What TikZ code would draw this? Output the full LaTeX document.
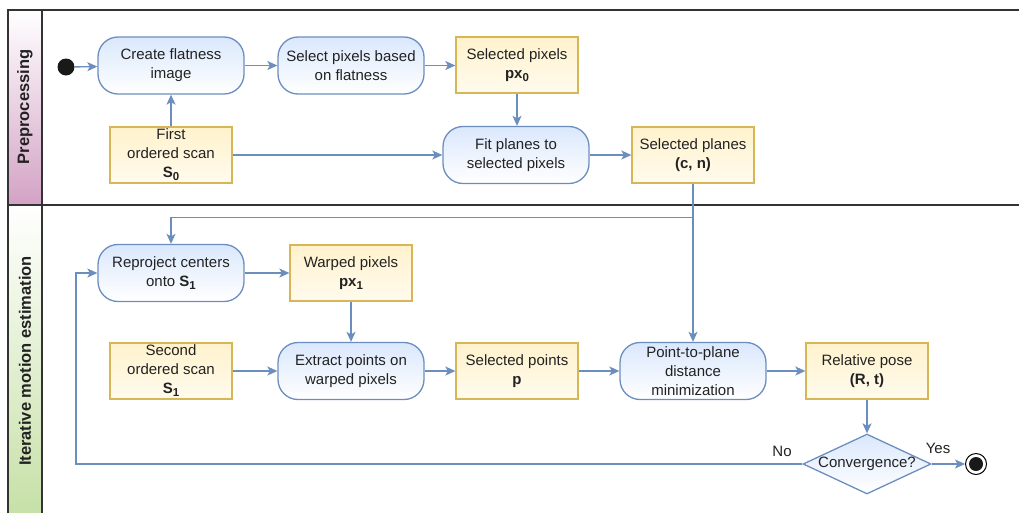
\documentclass[tikz,border=0pt]{standalone}
\usepackage{fontspec}
\setmainfont{Liberation Sans}
\usetikzlibrary{arrows.meta,shapes.geometric}
\definecolor{bline}{HTML}{6C8EBF}
\definecolor{bfill}{HTML}{DAE8FC}
\definecolor{yline}{HTML}{D6B656}
\definecolor{yfill}{HTML}{FFF2CC}
\definecolor{pinkb}{HTML}{D3A2C5}
\definecolor{greenb}{HTML}{C6E0A6}
\definecolor{txt}{HTML}{222222}
\newcommand{\sbs}[1]{\raisebox{-3pt}{\fontsize{11.5}{12}\selectfont\bfseries #1}}
\tikzset{
  every node/.style={font=\fontsize{15}{19}\selectfont, text=txt},
  actbox/.style={draw=bline, line width=1.3pt, rounded corners=20pt, top color=bfill, bottom color=white,
    minimum width=146pt, minimum height=57pt, align=center, inner sep=2pt},
  databox/.style={draw=yline, line width=1.3pt, top color=yfill, bottom color=yfill!35, 
    minimum width=122pt, minimum height=56pt, align=center, inner sep=2pt},
  conn/.style={draw=bline, line width=1.4pt, -{Stealth[length=10pt,width=9pt,inset=2.5pt]}},
  frame/.style={draw=black!80, line width=1.5pt},
  lanelabel/.style={font=\fontsize{16.5}{19}\selectfont\bfseries, text=txt},
}
\begin{document}
\begin{tikzpicture}[x=1pt,y=-1pt]
\useasboundingbox (0,0) rectangle (1019,512);
\clip (0,0) rectangle (1019,512);
% swimlanes
\shade[top color=white, bottom color=pinkb] (8,10) rectangle (42,205);
\shade[top color=white, bottom color=greenb] (8,205) rectangle (42,517);
\draw[frame] (1030,10) -- (8,10) -- (8,530);
\draw[frame] (42,10) -- (42,530);
\draw[frame] (8,205) -- (1030,205);
\node[lanelabel, rotate=90] (lane1) at (25,107) {Preprocessing};
\node[lanelabel, rotate=90] (lane2) at (25,361) {Iterative motion estimation};
% nodes
\node[circle, fill=black!90, minimum size=17pt, inner sep=0pt] (start) at (66,67) {};
\node[actbox] (create) at (171,65.5) {Create flatness\\image};
\node[actbox] (selpix) at (351,65.5) {Select pixels based\\on flatness};
\node[databox] (px0) at (517,65) {Selected pixels\\\textbf{px\sbs{0}}};
\node[databox] (scan0) at (171,155) {First\\ordered scan\\\textbf{S\sbs{0}}};
\node[actbox] (fit) at (516,155) {Fit planes to\\selected pixels};
\node[databox] (planes) at (693,155) {Selected planes\\\textbf{(c, n)}};
\node[actbox] (reproj) at (171,273) {Reproject centers\\onto \textbf{S\sbs{1}}};
\node[databox] (px1) at (351,273) {Warped pixels\\\textbf{px\sbs{1}}};
\node[databox] (scan1) at (171,371) {Second\\ordered scan\\\textbf{S\sbs{1}}};
\node[actbox] (extract) at (351,371) {Extract points on\\warped pixels};
\node[databox] (selpts) at (517,371) {Selected points\\\textbf{p}};
\node[actbox] (p2p) at (693,371) {Point-to-plane\\distance\\minimization};
\node[databox] (pose) at (867,371) {Relative pose\\\textbf{(R, t)}};
\node[diamond, draw=bline, line width=1.3pt, top color=bfill, bottom color=white,
  minimum width=128pt, minimum height=60pt, inner sep=0pt] (conv) at (867,464) {\makebox[0pt]{Convergence?}};
\node[circle, draw=black, line width=1pt, fill=white, minimum size=21pt, inner sep=0pt,
  path picture={\fill[black!90] (path picture bounding box.center) circle (7pt);}] (end) at (976,464) {};
\coordinate (loop) at (76,464);
% connectors
\draw[conn] (start) -- (create);
\draw[conn] (create) -- (selpix);
\draw[conn] (selpix) -- (px0.west |- selpix);
\draw[conn] (px0.south) -- (fit.north -| px0.south);
\draw[conn] (scan0) -- (create);
\draw[conn] (scan0) -- (fit);
\draw[conn] (fit) -- (planes);
\draw[conn] (planes.south) -- (p2p.north);
\draw[conn] (planes.south) -- ++(0,34) -| (reproj.north);
\draw[conn] (reproj.east) -- (px1.west |- reproj.east);
\draw[conn] (px1) -- (extract);
\draw[conn] (scan1) -- (extract);
\draw[conn] (extract) -- (selpts);
\draw[conn] (selpts) -- (p2p);
\draw[conn] (p2p) -- (pose);
\draw[conn] (pose) -- (conv);
\draw[conn] (conv.west) -- (loop) |- (reproj.west);
\draw[conn] (conv.east) -- (end);
\node (no) at (782,451) {No};
\node (yes) at (938,448) {Yes};
\end{tikzpicture}
\end{document}
